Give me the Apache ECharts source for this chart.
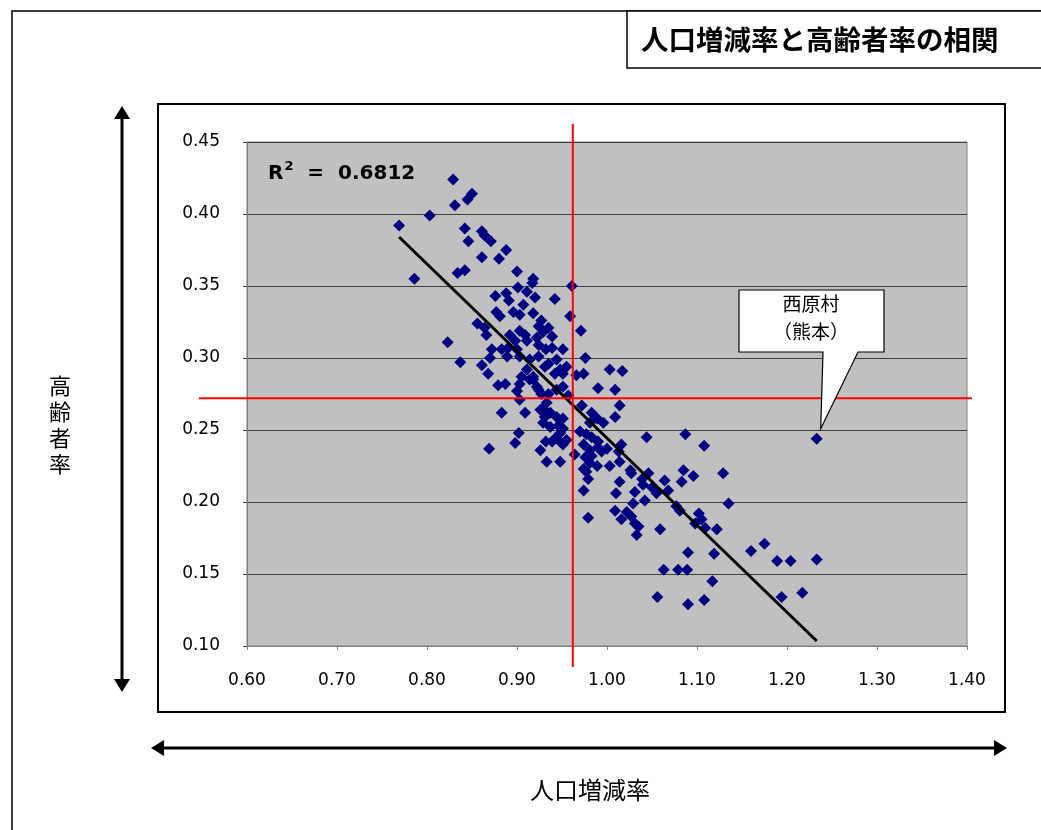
<!DOCTYPE html>
<html><head><meta charset="utf-8">
<script src="https://cdn.jsdelivr.net/npm/echarts/dist/echarts.min.js"></script>
<style>html,body{margin:0;padding:0;background:#fff}#c{width:1041px;height:830px}</style>
</head><body><div id="c"></div>
<script>
// 人口増減率 (x) and 高齢者率 (y) per municipality
const popChange = [0.829,0.850,0.845,0.831,0.803,0.769,0.842,0.861,0.864,0.871,0.846,0.888,0.861,0.880,0.900,0.834,0.842,0.786,0.918,0.917,
0.901,0.876,0.888,0.891,0.911,0.920,0.907,0.877,0.881,0.896,0.903,0.918,0.927,0.856,0.864,0.866,0.903,0.909,0.892,0.898,
0.924,0.929,0.911,0.922,0.823,0.872,0.883,0.890,0.889,0.870,0.837,0.861,0.868,0.900,0.903,0.914,0.924,0.931,0.911,0.918,
0.905,0.924,0.932,0.879,0.887,0.903,0.900,0.903,0.883,0.909,0.914,0.922,0.927,0.933,0.926,0.931,0.902,0.898,0.869,0.932,
0.926,0.933,0.961,0.942,0.959,0.935,0.939,0.971,0.951,0.939,0.976,0.935,0.944,0.948,0.942,0.951,0.955,0.966,1.003,1.017,
0.974,0.918,0.924,0.935,0.944,0.951,0.957,0.990,1.009,0.972,1.014,0.929,0.937,0.944,0.951,0.983,0.989,0.996,1.009,0.929,
0.937,0.946,0.951,0.970,0.977,0.983,0.939,0.948,0.974,0.981,0.990,0.994,1.016,0.948,0.974,0.981,0.989,1.003,1.014,1.026,
0.981,1.044,1.087,1.108,0.983,0.976,1.000,1.013,0.979,1.027,1.039,1.046,1.040,1.050,1.055,1.064,1.085,1.096,1.083,1.014,
0.974,1.010,1.031,1.068,1.042,1.029,1.077,1.081,1.009,1.016,1.022,1.027,1.031,1.035,0.979,1.102,1.105,1.098,1.059,1.033,
1.122,1.233,1.129,1.135,1.109,1.160,1.175,1.090,1.119,1.189,1.204,1.233,1.063,1.079,1.089,1.117,1.194,1.217,1.056,1.090,
1.108,0.942,0.948,0.955,0.951,0.964,0.990,0.977];
const elderRate = [0.424,0.414,0.410,0.406,0.399,0.392,0.390,0.388,0.385,0.381,0.381,0.375,0.370,0.369,0.360,0.359,0.361,0.355,0.355,0.352,
0.349,0.343,0.345,0.340,0.346,0.342,0.337,0.332,0.329,0.332,0.330,0.331,0.326,0.324,0.321,0.316,0.319,0.316,0.316,0.312,
0.322,0.318,0.312,0.314,0.311,0.306,0.306,0.307,0.301,0.300,0.297,0.295,0.289,0.306,0.301,0.299,0.301,0.294,0.292,0.287,
0.287,0.309,0.306,0.281,0.282,0.282,0.277,0.271,0.262,0.262,0.285,0.280,0.275,0.269,0.264,0.259,0.248,0.241,0.237,0.242,
0.236,0.228,0.350,0.341,0.329,0.321,0.315,0.319,0.306,0.307,0.300,0.296,0.299,0.292,0.289,0.289,0.294,0.288,0.292,0.291,
0.289,0.285,0.278,0.275,0.278,0.280,0.274,0.279,0.278,0.267,0.267,0.265,0.262,0.259,0.258,0.262,0.258,0.255,0.259,0.255,
0.252,0.253,0.251,0.249,0.247,0.245,0.242,0.242,0.240,0.236,0.238,0.235,0.240,0.228,0.223,0.227,0.225,0.225,0.228,0.222,
0.255,0.245,0.247,0.239,0.232,0.231,0.237,0.235,0.216,0.220,0.216,0.220,0.212,0.210,0.206,0.215,0.222,0.218,0.214,0.214,
0.208,0.206,0.207,0.208,0.201,0.199,0.197,0.194,0.194,0.188,0.193,0.190,0.185,0.183,0.189,0.192,0.188,0.185,0.181,0.177,
0.181,0.244,0.220,0.199,0.182,0.166,0.171,0.165,0.164,0.159,0.159,0.160,0.153,0.153,0.153,0.145,0.134,0.137,0.134,0.129,
0.132,0.244,0.248,0.243,0.240,0.233,0.242,0.221];
// Linear trend line endpoints
const trendX = [0.769, 1.233];
const trendY = [0.384, 0.1035];
// Average lines
const avgX = 0.962;
const avgY = 0.272;
// Labelled municipality
const calloutPoint = [1.233, 0.244];
const calloutLines = ['西原村', '（熊本）'];
const titleText = '人口増減率と高齢者率の相関';
const xTitle = '人口増減率';
const yTitle = '高齢者率';
const r2Text = '0.6812';
const xTicks = {min: 0.6, max: 1.4, interval: 0.1};
const yTicks = {min: 0.1, max: 0.45, interval: 0.05};

const JP = '"Noto Sans CJK JP", sans-serif';
const NUM = '"DejaVu Sans", "Liberation Sans", sans-serif';

const chart = echarts.init(document.getElementById('c'), null, {renderer: 'canvas'});
const pts = popChange.map((x, i) => [x, elderRate[i]]);

chart.setOption({
  animation: false,
  backgroundColor: '#fff',
  grid: {left: 247, top: 142, width: 720, height: 504, show: true,
         backgroundColor: '#C0C0C0', borderColor: '#808080', borderWidth: 1},
  xAxis: {type: 'value', min: xTicks.min, max: xTicks.max, interval: xTicks.interval,
    axisLine: {show: true, onZero: false, lineStyle: {color: '#808080'}},
    axisTick: {show: true, length: 4, lineStyle: {color: '#808080'}},
    splitLine: {show: false},
    axisLabel: {margin: 26, color: '#000', fontFamily: NUM, fontSize: 17,
      formatter: v => v.toFixed(2)}},
  yAxis: {type: 'value', min: yTicks.min, max: yTicks.max, interval: yTicks.interval,
    axisLine: {show: true, lineStyle: {color: '#808080'}},
    axisTick: {show: true, length: 4, lineStyle: {color: '#404040'}},
    splitLine: {show: true, lineStyle: {color: '#404040', width: 1}},
    axisLabel: {margin: 27, color: '#000', fontFamily: NUM, fontSize: 17,
      formatter: v => v.toFixed(2)}},
  series: [
    {type: 'scatter', data: pts, symbol: 'diamond', symbolSize: 12,
     itemStyle: {color: '#000080', opacity: 1}, z: 2},
    {type: 'line', data: trendX.map((x, i) => [x, trendY[i]]), symbol: 'none',
     lineStyle: {color: '#000', width: 3}, z: 3}
  ]
});

function px(x, y) { return chart.convertToPixel({gridIndex: 0}, [x, y]); }
const vx = px(avgX, avgY)[0];
const hy = px(avgX, avgY)[1];
const tip = px(calloutPoint[0], calloutPoint[1]);
const tipX = tip[0] + 4, tipY = tip[1] - 10;
const bx0 = 739, by0 = 290, bx1 = 884, by1 = 352;

function arrowHead(x, y, dir) {
  const L = 13, W = 8;
  let p;
  if (dir === 'up') p = [[x, y], [x - W, y + L], [x + W, y + L]];
  if (dir === 'down') p = [[x, y], [x - W, y - L], [x + W, y - L]];
  if (dir === 'left') p = [[x, y], [x + L, y - W], [x + L, y + W]];
  if (dir === 'right') p = [[x, y], [x - L, y - W], [x - L, y + W]];
  return {type: 'polygon', shape: {points: p}, style: {fill: '#000'}};
}

chart.setOption({
  graphic: [
    {type: 'rect', shape: {x: 12, y: 11, width: 1100, height: 900}, style: {fill: 'none', stroke: '#000', lineWidth: 1.5}, z: 1},
    {type: 'rect', shape: {x: 627, y: 11, width: 500, height: 57}, style: {fill: '#fff', stroke: '#000', lineWidth: 1.5}, z: 1},
    {type: 'text', x: 641, y: 40, style: {text: titleText, font: 'bold 27.5px ' + JP, fill: '#000', verticalAlign: 'middle'}, z: 2},
    {type: 'rect', shape: {x: 158, y: 104, width: 847, height: 608}, style: {fill: 'none', stroke: '#000', lineWidth: 2}, z: 1},
    {type: 'line', shape: {x1: 122, y1: 115, x2: 122, y2: 685}, style: {stroke: '#000', lineWidth: 3}},
    arrowHead(122, 106, 'up'), arrowHead(122, 692, 'down'),
    {type: 'line', shape: {x1: 160, y1: 748, x2: 998, y2: 748}, style: {stroke: '#000', lineWidth: 3}},
    arrowHead(151, 748, 'left'), arrowHead(1007, 748, 'right'),
    {type: 'text', x: 60, y: 425, style: {text: yTitle.split('').join('\n'), font: '22px ' + JP, lineHeight: 26, fill: '#000', align: 'center', verticalAlign: 'middle'}},
    {type: 'text', x: 590, y: 790, style: {text: xTitle, font: '24px ' + JP, fill: '#000', align: 'center', verticalAlign: 'middle'}},
    {type: 'text', x: 268, y: 172, z: 20, style: {
      text: '{b|R}{s|2}{b|  =  ' + r2Text + '}',
      verticalAlign: 'middle',
      rich: {b: {font: 'bold 20px ' + NUM, fill: '#000', verticalAlign: 'bottom'},
             s: {font: 'bold 13px ' + NUM, fill: '#000', verticalAlign: 'top', padding: [0, 0, 11, 1]}}}},
    {type: 'line', z: 50, shape: {x1: vx, y1: 124, x2: vx, y2: 667}, style: {stroke: '#FF0000', lineWidth: 2}},
    {type: 'line', z: 50, shape: {x1: 199, y1: hy, x2: 972, y2: hy}, style: {stroke: '#FF0000', lineWidth: 2}},
    {type: 'polygon', z: 60, shape: {points: [[bx0, by0], [bx1, by0], [bx1, by1], [858, by1], [tipX, tipY], [823, by1], [bx0, by1]]},
     style: {fill: '#fff', stroke: '#000', lineWidth: 1.2}},
    {type: 'text', z: 61, x: 811, y: 304, style: {text: calloutLines[0], font: '19px ' + JP, fill: '#000', align: 'center', verticalAlign: 'middle'}},
    {type: 'text', z: 61, x: 811, y: 332, style: {text: calloutLines[1], font: '19px ' + JP, fill: '#000', align: 'center', verticalAlign: 'middle'}}
  ]
});
</script>
</body></html>
